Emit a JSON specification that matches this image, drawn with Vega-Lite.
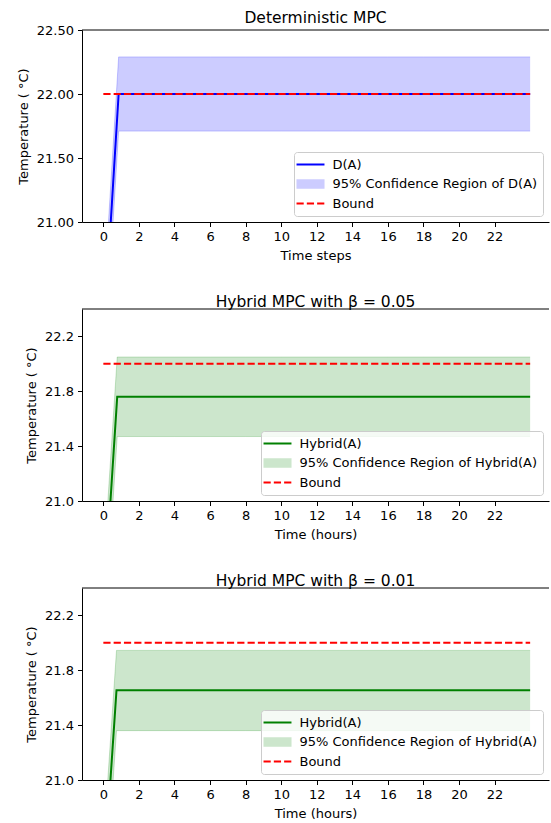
{
  "$schema": "https://vega.github.io/schema/vega-lite/v6.json",
  "autosize": {"type": "pad"},
  "padding": {"left": 17, "top": 10, "right": 0, "bottom": 0},
  "background": "white",
  "bounds": "flush",
  "spacing": 87,
  "config": {
    "font": "DejaVu Sans",
    "view": {"stroke": null},
    "axis": {"domainColor": "black", "tickColor": "black", "labelColor": "black", "titleColor": "black", "labelFont": "DejaVu Sans", "titleFont": "DejaVu Sans", "labelFontSize": 13, "titleFontSize": 13, "titleFontWeight": "normal", "tickSize": 4.5, "labelPadding": 4, "grid": false, "domainWidth": 1, "tickWidth": 1, "titlePadding": 6},
    "title": {"font": "DejaVu Sans", "fontSize": 15.5, "fontWeight": "normal", "color": "black", "anchor": "middle", "frame": "group", "offset": -2},
    "legend": {"orient": "bottom-right", "offset": 6, "labelFont": "DejaVu Sans", "labelFontSize": 13, "labelColor": "black", "labelLimit": 400, "symbolSize": 144, "symbolStrokeWidth": 2, "symbolOpacity": 1, "symbolOffset": 4, "labelOffset": 15, "rowPadding": 4.5, "padding": 5.5, "strokeColor": "#cccccc", "fillColor": "rgba(255,255,255,0.8)", "cornerRadius": 3, "title": null}
  },
  "datasets": {
    "det": [
      {"t": 0, "mean": 20.06, "lower": 19.77, "upper": 20.35, "bound": 22},
      {"t": 0.86, "mean": 22.0, "lower": 21.71, "upper": 22.29, "bound": 22},
      {"t": 2, "mean": 22.0, "lower": 21.71, "upper": 22.29, "bound": 22},
      {"t": 4, "mean": 22.0, "lower": 21.71, "upper": 22.29, "bound": 22},
      {"t": 6, "mean": 22.0, "lower": 21.71, "upper": 22.29, "bound": 22},
      {"t": 8, "mean": 22.0, "lower": 21.71, "upper": 22.29, "bound": 22},
      {"t": 10, "mean": 22.0, "lower": 21.71, "upper": 22.29, "bound": 22},
      {"t": 12, "mean": 22.0, "lower": 21.71, "upper": 22.29, "bound": 22},
      {"t": 14, "mean": 22.0, "lower": 21.71, "upper": 22.29, "bound": 22},
      {"t": 16, "mean": 22.0, "lower": 21.71, "upper": 22.29, "bound": 22},
      {"t": 18, "mean": 22.0, "lower": 21.71, "upper": 22.29, "bound": 22},
      {"t": 20, "mean": 22.0, "lower": 21.71, "upper": 22.29, "bound": 22},
      {"t": 22, "mean": 22.0, "lower": 21.71, "upper": 22.29, "bound": 22},
      {"t": 24, "mean": 22.0, "lower": 21.71, "upper": 22.29, "bound": 22}
    ],
    "h05": [
      {"t": 0, "mean": 20.2, "lower": 19.91, "upper": 20.49, "bound": 22},
      {"t": 0.78, "mean": 21.76, "lower": 21.47, "upper": 22.05, "bound": 22},
      {"t": 2, "mean": 21.76, "lower": 21.47, "upper": 22.05, "bound": 22},
      {"t": 4, "mean": 21.76, "lower": 21.47, "upper": 22.05, "bound": 22},
      {"t": 6, "mean": 21.76, "lower": 21.47, "upper": 22.05, "bound": 22},
      {"t": 8, "mean": 21.76, "lower": 21.47, "upper": 22.05, "bound": 22},
      {"t": 10, "mean": 21.76, "lower": 21.47, "upper": 22.05, "bound": 22},
      {"t": 12, "mean": 21.76, "lower": 21.47, "upper": 22.05, "bound": 22},
      {"t": 14, "mean": 21.76, "lower": 21.47, "upper": 22.05, "bound": 22},
      {"t": 16, "mean": 21.76, "lower": 21.47, "upper": 22.05, "bound": 22},
      {"t": 18, "mean": 21.76, "lower": 21.47, "upper": 22.05, "bound": 22},
      {"t": 20, "mean": 21.76, "lower": 21.47, "upper": 22.05, "bound": 22},
      {"t": 22, "mean": 21.76, "lower": 21.47, "upper": 22.05, "bound": 22},
      {"t": 24, "mean": 21.76, "lower": 21.47, "upper": 22.05, "bound": 22}
    ],
    "h01": [
      {"t": 0, "mean": 20.23, "lower": 19.94, "upper": 20.52, "bound": 22},
      {"t": 0.74, "mean": 21.655, "lower": 21.36, "upper": 21.945, "bound": 22},
      {"t": 2, "mean": 21.655, "lower": 21.36, "upper": 21.945, "bound": 22},
      {"t": 4, "mean": 21.655, "lower": 21.36, "upper": 21.945, "bound": 22},
      {"t": 6, "mean": 21.655, "lower": 21.36, "upper": 21.945, "bound": 22},
      {"t": 8, "mean": 21.655, "lower": 21.36, "upper": 21.945, "bound": 22},
      {"t": 10, "mean": 21.655, "lower": 21.36, "upper": 21.945, "bound": 22},
      {"t": 12, "mean": 21.655, "lower": 21.36, "upper": 21.945, "bound": 22},
      {"t": 14, "mean": 21.655, "lower": 21.36, "upper": 21.945, "bound": 22},
      {"t": 16, "mean": 21.655, "lower": 21.36, "upper": 21.945, "bound": 22},
      {"t": 18, "mean": 21.655, "lower": 21.36, "upper": 21.945, "bound": 22},
      {"t": 20, "mean": 21.655, "lower": 21.36, "upper": 21.945, "bound": 22},
      {"t": 22, "mean": 21.655, "lower": 21.36, "upper": 21.945, "bound": 22},
      {"t": 24, "mean": 21.655, "lower": 21.36, "upper": 21.945, "bound": 22}
    ]
  },
  "vconcat": [
    {
      "width": 467, "height": 192,
      "title": "Deterministic MPC",
      "layer": [
        {"data": {"name": "det"},
         "mark": {"type": "area", "clip": true},
         "encoding": {
           "x": {"field": "t", "type": "quantitative", "scale": {"domain": [-1.2, 25.06], "nice": false, "zero": false}, "axis": {"title": "Time steps", "values": [0, 2, 4, 6, 8, 10, 12, 14, 16, 18, 20, 22]}},
           "y": {"field": "lower", "type": "quantitative", "scale": {"domain": [21, 22.5], "nice": false, "zero": false}, "axis": {"title": "Temperature ( °C)", "values": [21, 21.25, 21.5, 21.75, 22, 22.25, 22.5], "format": ".2f", "labelOverlap": false, "labelBound": false}},
           "y2": {"field": "upper"},
           "color": {"datum": "95% Confidence Region of D(A)", "scale": {"domain": ["D(A)", "95% Confidence Region of D(A)", "Bound"], "range": ["#0000ff", "#ccccff", "#ff0000"]}}
         }},
        {"data": {"name": "det"},
         "mark": {"type": "line", "clip": true, "color": "#0000ff", "strokeOpacity": 0.2, "strokeWidth": 1},
         "encoding": {"x": {"field": "t", "type": "quantitative"}, "y": {"field": "lower", "type": "quantitative"}}},
        {"data": {"name": "det"},
         "mark": {"type": "line", "clip": true, "color": "#0000ff", "strokeOpacity": 0.2, "strokeWidth": 1},
         "encoding": {"x": {"field": "t", "type": "quantitative"}, "y": {"field": "upper", "type": "quantitative"}}},
        {"data": {"name": "det"},
         "mark": {"type": "line", "clip": true, "strokeWidth": 2},
         "encoding": {"x": {"field": "t", "type": "quantitative"}, "y": {"field": "mean", "type": "quantitative"}, "color": {"datum": "D(A)"},
           "strokeDash": {"datum": "D(A)", "scale": {"domain": ["D(A)", "95% Confidence Region of D(A)", "Bound"], "range": [[1, 0], [1, 0], [7.2, 3.1]]}}}},
        {"data": {"name": "det"},
         "mark": {"type": "line", "clip": true, "strokeWidth": 2},
         "encoding": {"x": {"field": "t", "type": "quantitative"}, "y": {"field": "bound", "type": "quantitative"}, "color": {"datum": "Bound"}, "strokeDash": {"datum": "Bound"}}},
        {"data": {"values": [{}]},
         "mark": {"type": "point", "opacity": 0},
         "encoding": {"shape": {"datum": "D(A)", "scale": {"domain": ["D(A)", "95% Confidence Region of D(A)", "Bound"], "range": ["M-2.33,0H2.33", "M-2.17,-0.62H2.17V0.62H-2.17Z", "M-2.33,0H2.33"]}}}},
        {"data": {"values": [{}]},
         "mark": {"type": "rule", "color": "black", "strokeWidth": 1},
         "encoding": {"y": {"datum": 22.5}}}
      ]
    },
    {
      "width": 467, "height": 192,
      "title": "Hybrid MPC with β = 0.05",
      "layer": [
        {"data": {"name": "h05"},
         "mark": {"type": "area", "clip": true},
         "encoding": {
           "x": {"field": "t", "type": "quantitative", "scale": {"domain": [-1.2, 25.06], "nice": false, "zero": false}, "axis": {"title": "Time (hours)", "values": [0, 2, 4, 6, 8, 10, 12, 14, 16, 18, 20, 22]}},
           "y": {"field": "lower", "type": "quantitative", "scale": {"domain": [21, 22.4], "nice": false, "zero": false}, "axis": {"title": "Temperature ( °C)", "values": [21, 21.2, 21.4, 21.6, 21.8, 22, 22.2, 22.4], "format": ".1f", "labelOverlap": false, "labelBound": false}},
           "y2": {"field": "upper"},
           "color": {"datum": "95% Confidence Region of Hybrid(A)", "scale": {"domain": ["Hybrid(A)", "95% Confidence Region of Hybrid(A)", "Bound"], "range": ["#008000", "#cce6cc", "#ff0000"]}}
         }},
        {"data": {"name": "h05"},
         "mark": {"type": "line", "clip": true, "color": "#008000", "strokeOpacity": 0.2, "strokeWidth": 1},
         "encoding": {"x": {"field": "t", "type": "quantitative"}, "y": {"field": "lower", "type": "quantitative"}}},
        {"data": {"name": "h05"},
         "mark": {"type": "line", "clip": true, "color": "#008000", "strokeOpacity": 0.2, "strokeWidth": 1},
         "encoding": {"x": {"field": "t", "type": "quantitative"}, "y": {"field": "upper", "type": "quantitative"}}},
        {"data": {"name": "h05"},
         "mark": {"type": "line", "clip": true, "strokeWidth": 2},
         "encoding": {"x": {"field": "t", "type": "quantitative"}, "y": {"field": "mean", "type": "quantitative"}, "color": {"datum": "Hybrid(A)"},
           "strokeDash": {"datum": "Hybrid(A)", "scale": {"domain": ["Hybrid(A)", "95% Confidence Region of Hybrid(A)", "Bound"], "range": [[1, 0], [1, 0], [7.2, 3.1]]}}}},
        {"data": {"name": "h05"},
         "mark": {"type": "line", "clip": true, "strokeWidth": 2},
         "encoding": {"x": {"field": "t", "type": "quantitative"}, "y": {"field": "bound", "type": "quantitative"}, "color": {"datum": "Bound"}, "strokeDash": {"datum": "Bound"}}},
        {"data": {"values": [{}]},
         "mark": {"type": "point", "opacity": 0},
         "encoding": {"shape": {"datum": "Hybrid(A)", "scale": {"domain": ["Hybrid(A)", "95% Confidence Region of Hybrid(A)", "Bound"], "range": ["M-2.33,0H2.33", "M-2.17,-0.62H2.17V0.62H-2.17Z", "M-2.33,0H2.33"]}}}},
        {"data": {"values": [{}]},
         "mark": {"type": "rule", "color": "black", "strokeWidth": 1},
         "encoding": {"y": {"datum": 22.4}}}
      ]
    },
    {
      "width": 467, "height": 192,
      "title": "Hybrid MPC with β = 0.01",
      "layer": [
        {"data": {"name": "h01"},
         "mark": {"type": "area", "clip": true},
         "encoding": {
           "x": {"field": "t", "type": "quantitative", "scale": {"domain": [-1.2, 25.06], "nice": false, "zero": false}, "axis": {"title": "Time (hours)", "values": [0, 2, 4, 6, 8, 10, 12, 14, 16, 18, 20, 22]}},
           "y": {"field": "lower", "type": "quantitative", "scale": {"domain": [21, 22.4], "nice": false, "zero": false}, "axis": {"title": "Temperature ( °C)", "values": [21, 21.2, 21.4, 21.6, 21.8, 22, 22.2, 22.4], "format": ".1f", "labelOverlap": false, "labelBound": false}},
           "y2": {"field": "upper"},
           "color": {"datum": "95% Confidence Region of Hybrid(A)", "scale": {"domain": ["Hybrid(A)", "95% Confidence Region of Hybrid(A)", "Bound"], "range": ["#008000", "#cce6cc", "#ff0000"]}}
         }},
        {"data": {"name": "h01"},
         "mark": {"type": "line", "clip": true, "color": "#008000", "strokeOpacity": 0.2, "strokeWidth": 1},
         "encoding": {"x": {"field": "t", "type": "quantitative"}, "y": {"field": "lower", "type": "quantitative"}}},
        {"data": {"name": "h01"},
         "mark": {"type": "line", "clip": true, "color": "#008000", "strokeOpacity": 0.2, "strokeWidth": 1},
         "encoding": {"x": {"field": "t", "type": "quantitative"}, "y": {"field": "upper", "type": "quantitative"}}},
        {"data": {"name": "h01"},
         "mark": {"type": "line", "clip": true, "strokeWidth": 2},
         "encoding": {"x": {"field": "t", "type": "quantitative"}, "y": {"field": "mean", "type": "quantitative"}, "color": {"datum": "Hybrid(A)"},
           "strokeDash": {"datum": "Hybrid(A)", "scale": {"domain": ["Hybrid(A)", "95% Confidence Region of Hybrid(A)", "Bound"], "range": [[1, 0], [1, 0], [7.2, 3.1]]}}}},
        {"data": {"name": "h01"},
         "mark": {"type": "line", "clip": true, "strokeWidth": 2},
         "encoding": {"x": {"field": "t", "type": "quantitative"}, "y": {"field": "bound", "type": "quantitative"}, "color": {"datum": "Bound"}, "strokeDash": {"datum": "Bound"}}},
        {"data": {"values": [{}]},
         "mark": {"type": "point", "opacity": 0},
         "encoding": {"shape": {"datum": "Hybrid(A)", "scale": {"domain": ["Hybrid(A)", "95% Confidence Region of Hybrid(A)", "Bound"], "range": ["M-2.33,0H2.33", "M-2.17,-0.62H2.17V0.62H-2.17Z", "M-2.33,0H2.33"]}}}},
        {"data": {"values": [{}]},
         "mark": {"type": "rule", "color": "black", "strokeWidth": 1},
         "encoding": {"y": {"datum": 22.4}}}
      ]
    }
  ],
  "resolve": {"scale": {"color": "independent", "shape": "independent", "strokeDash": "independent"}, "legend": {"color": "independent", "shape": "independent", "strokeDash": "independent"}}
}
